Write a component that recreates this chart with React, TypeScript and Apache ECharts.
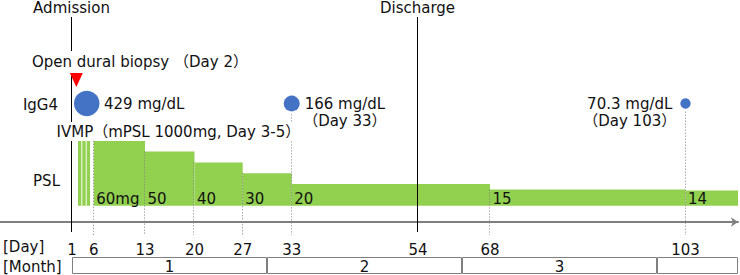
import React, { useEffect, useRef } from "react";
import * as echarts from "echarts";

// Days marked on the timeline
const dayTicks = [1, 6, 13, 20, 27, 33, 54, 68, 103];

// Oral prednisolone (PSL): day each dose starts, daily dose in mg
const pslStartDays = [6, 13, 20, 27, 33, 68, 103];
const pslDoses = [60, 50, 40, 30, 20, 15, 14];

// Steroid pulse (IVMP, mPSL 1000 mg) days
const ivmpDays = [3, 4, 5];

// Serum IgG4 (mg/dL)
const igg4Days = [1, 33, 103];
const igg4Values = [429, 166, 70.3];

// Clinical events
const admissionDay = 1;
const biopsyDay = 2;
const dischargeDay = 54;
const eventDays = [admissionDay, dischargeDay];
const eventNames = ["Admission", "Discharge"];

// Month bands below the day axis
const monthLabels = ["1", "2", "3", ""];

// ---- layout -------------------------------------------------------------
// The timeline is schematic: every tick day has a fixed offset, measured in
// month-band widths from admission; days in between are interpolated.
const tickOffsets = [0, 0.1113, 0.3744, 0.6282, 0.8754, 1.1267, 1.7744, 2.1436, 3.1462];
const X_MIN = -0.3692;
const X_MAX = 3.4154;
const Y_MIN = -15; // dose scale (mg); the time arrow runs just below zero
const Y_MAX = 190;

const ROW = {
  eventTitle: 7.5,
  lineTop: 17,
  biopsy: 62,
  markerTop: 73,
  markerBottom: 87,
  igg4: 103.5,
  igg4Sub: 120.5,
  ivmp: 131.5,
  psl: 181,
  lineBottom: 232,
  dottedBottom: 235,
  day: 247,
  month: 266.5,
};

const FONT_FAMILY = '"DejaVu Sans", "Noto Sans CJK JP", sans-serif';
const FONT = `15px ${FONT_FAMILY}`;
const TEXT = "#111111";
const GREEN = "#92d050";
const BLUE = "#4472c4";
const GRAY = "#7f7f7f";
const R_MAX = 12.75;

function dayToPos(day: number): number {
  const n = dayTicks.length;
  let i = 0;
  if (day >= dayTicks[n - 1]) i = n - 2;
  else if (day > dayTicks[0]) {
    while (day > dayTicks[i + 1]) i++;
  }
  const d0 = dayTicks[i];
  const d1 = dayTicks[i + 1];
  const p0 = tickOffsets[i];
  const p1 = tickOffsets[i + 1];
  return p0 + ((day - d0) * (p1 - p0)) / (d1 - d0);
}

// circle area proportional to the IgG4 level
const radius = (v: number) => R_MAX * Math.sqrt(v / Math.max(...igg4Values));

let measureCtx: CanvasRenderingContext2D | null = null;
function textWidth(text: string): number {
  if (!measureCtx) measureCtx = document.createElement("canvas").getContext("2d");
  measureCtx!.font = FONT;
  return measureCtx!.measureText(text).width;
}

const crisp = (x: number) => Math.round(x) - 0.5;

function label(text: string, x: number, y: number, align: string, extra: any = {}) {
  return {
    type: "text",
    x,
    y,
    style: { text, font: FONT, fill: TEXT, align, verticalAlign: "middle", ...extra },
  };
}

function buildOption(): any {
  const pslData = pslStartDays.map((d, i) => [
    dayToPos(d),
    i + 1 < pslStartDays.length ? dayToPos(pslStartDays[i + 1]) : X_MAX,
    pslDoses[i],
  ]);

  return {
    animation: false,
    grid: [
      { left: 0, right: 2, top: 0, height: 222 },
      { left: 0, right: 2, top: 257, height: 17 },
    ],
    xAxis: [
      {
        type: "value",
        gridIndex: 0,
        min: X_MIN,
        max: X_MAX,
        axisLine: {
          show: true,
          onZero: false,
          symbol: ["none", "arrow"],
          symbolSize: [7, 7],
          lineStyle: { color: GRAY, width: 2 },
        },
        axisTick: { show: false },
        splitLine: { show: false },
        axisLabel: {
          customValues: tickOffsets,
          formatter: (v: number) => {
            const i = tickOffsets.findIndex((p) => Math.abs(p - v) < 1e-6);
            return i >= 0 ? String(dayTicks[i]) : "";
          },
          margin: 20,
          color: TEXT,
          fontSize: 15,
          fontFamily: FONT_FAMILY,
        },
      },
      { type: "value", gridIndex: 1, min: X_MIN, max: X_MAX, show: false },
    ],
    yAxis: [
      { type: "value", gridIndex: 0, min: Y_MIN, max: Y_MAX, show: false },
      { type: "value", gridIndex: 1, min: 0, max: 1, show: false },
    ],
    graphic: [
      { type: "text", z: 100, ...label("IgG4", 58, 104.5, "right") },
      { type: "text", z: 100, ...label("PSL", 60, ROW.psl, "right") },
      {
        type: "text",
        z: 100,
        ...label("IVMP（mPSL 1000mg, Day 3-5）", 56.5, ROW.ivmp, "left", {
          backgroundColor: "#ffffff",
          padding: [2, 0],
        }),
      },
      {
        type: "text",
        z: 100,
        ...label(`Open dural biopsy （Day ${biopsyDay}）`, 32, ROW.biopsy, "left", {
          backgroundColor: "#ffffff",
          padding: [3.5, 0],
        }),
      },
      { type: "text", z: 100, ...label("[Day]", 3, ROW.day, "left") },
      { type: "text", z: 100, ...label("[Month]", 3, ROW.month, "left") },
    ],
    series: [
      // PSL taper blocks
      {
        type: "custom",
        xAxisIndex: 0,
        yAxisIndex: 0,
        z: 2,
        data: pslData,
        renderItem: (params: any, api: any) => {
          const top = api.coord([api.value(0), api.value(2)]);
          const base = api.coord([api.value(1), 0]);
          const dose = pslDoses[params.dataIndex];
          const txt = params.dataIndex === 0 ? `${dose}mg` : String(dose);
          return {
            type: "group",
            children: [
              {
                type: "rect",
                shape: { x: top[0], y: top[1], width: base[0] - top[0], height: base[1] - top[1] },
                style: { fill: GREEN },
              },
              label(txt, top[0] + 2.5, base[1] - 6.5, "left"),
            ],
          };
        },
      },
      // IVMP pulse bars
      {
        type: "custom",
        xAxisIndex: 0,
        yAxisIndex: 0,
        z: 2,
        data: ivmpDays.map((d) => [dayToPos(d), pslDoses[0]]),
        renderItem: (params: any, api: any) => {
          const top = api.coord([api.value(0), api.value(1)]);
          const base = api.coord([api.value(0), 0]);
          return {
            type: "rect",
            shape: { x: top[0] - 2.7, y: top[1], width: 3.4, height: base[1] - top[1] },
            style: { fill: GREEN },
          };
        },
      },
      // dotted guides at each dose change
      {
        type: "custom",
        xAxisIndex: 0,
        yAxisIndex: 0,
        z: 3,
        data: pslStartDays.map((d, i) => [dayToPos(d), pslDoses[i]]),
        renderItem: (params: any, api: any) => {
          const day = pslStartDays[params.dataIndex];
          const p = api.coord([api.value(0), api.value(1)]);
          const k = igg4Days.indexOf(day);
          const y1 = k >= 0 ? ROW.igg4 + radius(igg4Values[k]) + 3 : p[1];
          const x = crisp(p[0]);
          return {
            type: "line",
            shape: { x1: x, y1, x2: x, y2: ROW.dottedBottom },
            style: { stroke: GRAY, lineWidth: 1, lineDash: [1, 2] },
          };
        },
      },
      // admission / discharge
      {
        type: "custom",
        xAxisIndex: 0,
        yAxisIndex: 0,
        z: 4,
        data: eventDays.map((d) => [dayToPos(d)]),
        renderItem: (params: any, api: any) => {
          const x = crisp(api.coord([api.value(0), 0])[0]);
          return {
            type: "group",
            children: [
              {
                type: "line",
                shape: { x1: x, y1: ROW.lineTop, x2: x, y2: ROW.lineBottom },
                style: { stroke: "#000000", lineWidth: 1 },
              },
              label(eventNames[params.dataIndex], x, ROW.eventTitle, "center"),
            ],
          };
        },
      },
      // biopsy marker
      {
        type: "custom",
        xAxisIndex: 0,
        yAxisIndex: 0,
        z: 5,
        data: [[dayToPos(biopsyDay)]],
        renderItem: (params: any, api: any) => {
          const x = api.coord([api.value(0), 0])[0];
          return {
            type: "polygon",
            shape: {
              points: [
                [x - 6.5, ROW.markerTop],
                [x + 6.5, ROW.markerTop],
                [x, ROW.markerBottom],
              ],
            },
            style: { fill: "#ff0000" },
          };
        },
      },
      // serum IgG4
      {
        type: "custom",
        xAxisIndex: 0,
        yAxisIndex: 0,
        z: 5,
        data: igg4Days.map((d, i) => [dayToPos(d), igg4Values[i]]),
        renderItem: (params: any, api: any) => {
          const i = params.dataIndex;
          const day = igg4Days[i];
          const v = igg4Values[i];
          const r = radius(v);
          let cx = api.coord([api.value(0), 0])[0];
          if (day === admissionDay) cx += r + 2; // keep clear of the admission line
          const main = `${v} mg/dL`;
          const children: any[] = [
            { type: "circle", shape: { cx, cy: ROW.igg4, r }, style: { fill: BLUE } },
          ];
          if (day === admissionDay) {
            children.push(label(main, cx + r + 4.5, ROW.igg4, "left"));
          } else {
            const w = textWidth(main);
            const last = i === igg4Days.length - 1;
            const left = last ? cx - r - 8 - w : cx + r + 5;
            children.push(label(main, left, ROW.igg4, "left"));
            children.push(label(`（Day ${day}）`, left + w / 2, ROW.igg4Sub, "center"));
          }
          return { type: "group", children };
        },
      },
      // month bands
      {
        type: "custom",
        xAxisIndex: 1,
        yAxisIndex: 1,
        z: 2,
        data: monthLabels.map((_, i) => [i, i + 1 < monthLabels.length ? i + 1 : X_MAX]),
        renderItem: (params: any, api: any) => {
          const a = api.coord([api.value(0), 1]);
          const b = api.coord([api.value(1), 0]);
          const x0 = crisp(a[0]) + 1;
          const x1 = crisp(b[0]);
          const y0 = Math.round(a[1]) + 0.5;
          const y1 = Math.round(b[1]) - 0.5;
          return {
            type: "group",
            children: [
              {
                type: "rect",
                shape: { x: x0, y: y0, width: x1 - x0, height: y1 - y0 },
                style: { fill: "#ffffff", stroke: GRAY, lineWidth: 1 },
              },
              label(monthLabels[params.dataIndex], (a[0] + b[0]) / 2, ROW.month, "center"),
            ],
          };
        },
      },
    ],
  };
}

export default function App() {
  const ref = useRef<HTMLDivElement>(null);

  useEffect(() => {
    if (!ref.current) return;
    const chart = echarts.init(ref.current, undefined, { renderer: "svg" });
    chart.setOption(buildOption());
    return () => chart.dispose();
  }, []);

  return (
    <div
      ref={ref}
      style={{ position: "fixed", left: 0, top: 0, width: 740, height: 275, background: "#ffffff" }}
    />
  );
}
